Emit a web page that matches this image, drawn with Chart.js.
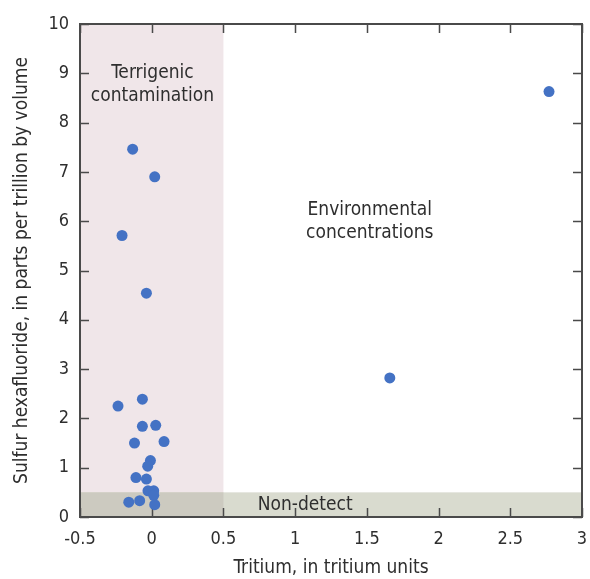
<!DOCTYPE html>
<html>
<head>
<meta charset="utf-8">
<script src="https://cdn.jsdelivr.net/npm/chart.js@4"></script>
<style>
  html, body { margin: 0; padding: 0; background: #fff; }
  #wrap { width: 590px; height: 579px; }
</style>
</head>
<body>
<div id="wrap"><canvas id="chart" width="590" height="579"></canvas></div>
<script>
// ── Data ──────────────────────────────────────────────────────────────
const tritium = [-0.235, -0.065, -0.065, 0.028, -0.12, 0.086, -0.009, -0.028, -0.11, -0.037,
  -0.026, 0.014, 0.014, -0.16, -0.084, 0.021, -0.133, 0.021, -0.207, -0.037, 2.77, 1.66];
const sf6 = [2.25, 2.39, 1.84, 1.86, 1.50, 1.53, 1.145, 1.03, 0.80, 0.77,
  0.53, 0.53, 0.44, 0.30, 0.33, 0.25, 7.46, 6.90, 5.71, 4.54, 8.63, 2.82];

const xTicks = [-0.5, 0, 0.5, 1, 1.5, 2, 2.5, 3];
const yTicks = [0, 1, 2, 3, 4, 5, 6, 7, 8, 9, 10];

// shaded zones [xMin, xMax, yMin, yMax]
const terrigenicZone = [-0.5, 0.5, 0, 10];
const nonDetectZone = [-0.5, 3, 0, 0.5];

// zone labels: [text lines], x, y (data units, centre of block)
const zoneLabels = [
  { lines: ['Terrigenic', 'contamination'], x: 0.005, y: 8.78 },
  { lines: ['Environmental', 'concentrations'], x: 1.52, y: 6.0 },
  { lines: ['Non-detect'], x: 1.07, y: 0.24 },
];

const FONT = "'DejaVu Sans Condensed', 'Liberation Sans Narrow', 'Roboto', sans-serif";
const INK = '#2e2e2e';
const AXIS = '#4a4a4a';

// ── Plugins ───────────────────────────────────────────────────────────
const zonesPlugin = {
  id: 'zones',
  beforeDatasetsDraw(chart) {
    const { ctx, scales: { x, y } } = chart;
    const rect = (z, color) => {
      const x0 = x.getPixelForValue(z[0]), x1 = x.getPixelForValue(z[1]);
      const y0 = y.getPixelForValue(z[3]), y1 = y.getPixelForValue(z[2]);
      ctx.fillStyle = color;
      ctx.fillRect(x0, y0, x1 - x0, y1 - y0);
    };
    ctx.save();
    rect(terrigenicZone, '#f0e6e9');
    rect(nonDetectZone, '#d9dbcf');
    // overlap of both zones
    rect([terrigenicZone[0], terrigenicZone[1], nonDetectZone[2], nonDetectZone[3]], '#cccac0');

    // inward ticks on all four sides
    const a = chart.chartArea, len = 9;
    ctx.strokeStyle = AXIS;
    ctx.lineWidth = 1.5;
    ctx.beginPath();
    xTicks.forEach(v => {
      const px = Math.round(x.getPixelForValue(v)) + 0.5;
      ctx.moveTo(px, a.bottom); ctx.lineTo(px, a.bottom - len);
      ctx.moveTo(px, a.top); ctx.lineTo(px, a.top + len);
    });
    yTicks.forEach(v => {
      const py = Math.round(y.getPixelForValue(v)) + 0.5;
      ctx.moveTo(a.left, py); ctx.lineTo(a.left + len, py);
      ctx.moveTo(a.right, py); ctx.lineTo(a.right - len, py);
    });
    ctx.stroke();

    // frame
    ctx.lineWidth = 2;
    ctx.strokeRect(a.left, a.top, a.right - a.left, a.bottom - a.top);
    ctx.restore();
  },
  afterDatasetsDraw(chart) {
    const { ctx, scales: { x, y } } = chart;
    ctx.save();
    ctx.fillStyle = INK;
    ctx.font = '19px ' + FONT;
    ctx.textAlign = 'center';
    ctx.textBaseline = 'middle';
    const lh = 23;
    zoneLabels.forEach(l => {
      const cx = x.getPixelForValue(l.x);
      const cy = y.getPixelForValue(l.y) - (l.lines.length - 1) * lh / 2;
      l.lines.forEach((t, i) => ctx.fillText(t, cx, cy + i * lh));
    });
    ctx.restore();
  }
};

// ── Chart ─────────────────────────────────────────────────────────────
new Chart(document.getElementById('chart'), {
  type: 'scatter',
  data: {
    datasets: [{
      data: tritium.map((t, i) => ({ x: t, y: sf6[i] })),
      backgroundColor: '#4472c4',
      borderWidth: 0,
      pointRadius: 5.5,
      pointHoverRadius: 5.5,
    }],
  },
  options: {
    responsive: false,
    animation: false,
    events: [],
    layout: { padding: { left: 0, top: 24, right: 8, bottom: 0 } },
    plugins: { legend: { display: false }, tooltip: { enabled: false } },
    scales: {
      x: {
        type: 'linear',
        min: -0.5, max: 3,
        afterBuildTicks: s => { s.ticks = xTicks.map(v => ({ value: v })); },
        afterFit: s => { s.height = 62; s.paddingLeft = 0; s.paddingRight = 0; },
        grid: { display: false, drawTicks: false },
        border: { display: false },
        ticks: { color: INK, font: { family: FONT, size: 18 }, padding: 12, maxRotation: 0,
          callback: v => String(v) },
        title: { display: true, text: 'Tritium, in tritium units', color: INK,
          font: { family: FONT, size: 19 }, padding: { top: 0, bottom: 0 } },
      },
      y: {
        type: 'linear',
        min: 0, max: 10,
        afterBuildTicks: s => { s.ticks = yTicks.map(v => ({ value: v })); },
        afterFit: s => { s.width = 80; },
        grid: { display: false, drawTicks: false },
        border: { display: false },
        ticks: { color: INK, font: { family: FONT, size: 18 }, padding: 11,
          callback: v => String(v) },
        title: { display: true, text: 'Sulfur hexafluoride, in parts per trillion by volume', color: INK,
          font: { family: FONT, size: 19 }, padding: { top: 11, bottom: 0 } },
      },
    },
  },
  plugins: [zonesPlugin],
});
</script>
</body>
</html>
